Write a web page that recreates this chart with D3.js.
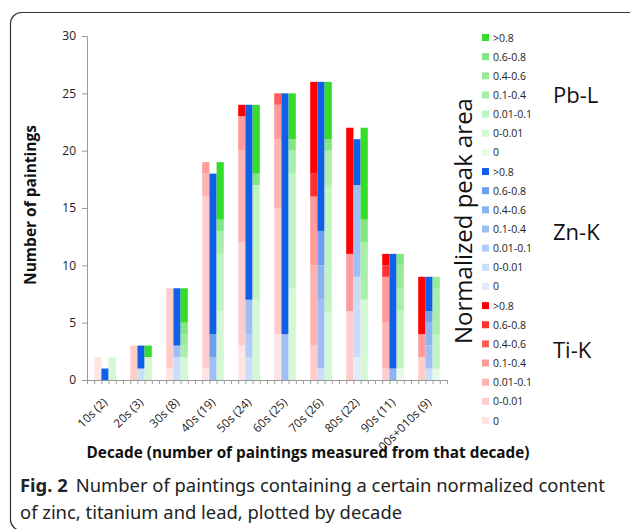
<!DOCTYPE html>
<html><head><meta charset="utf-8">
<script src="https://cdn.jsdelivr.net/npm/d3@7"></script>
<style>
html,body{margin:0;padding:0;background:#fff;}
svg{display:block;}
</style></head>
<body>
<svg id="c" width="630" height="529"></svg>
<script>
// ---- data ----
const decades = ["10s (2)","20s (3)","30s (8)","40s (19)","50s (24)","60s (25)","70s (26)","80s (22)","90s (11)","00s+010s (9)"];
const categories = ["0","0-0.01","0.01-0.1","0.1-0.4","0.4-0.6","0.6-0.8",">0.8"];
const elements = ["Ti","Zn","Pb"];
const elementLabels = ["Ti-K","Zn-K","Pb-L"];
// counts per decade, per category (bottom -> top)
const ti = [
  [2,0,0,0,0,0,0],
  [0,3,0,0,0,0,0],
  [1,7,0,0,0,0,0],
  [1,15,2,1,0,0,0],
  [3,9,8,3,0,0,1],
  [4,11,6,3,1,0,0],
  [0,3,7,6,0,2,8],
  [0,6,0,5,0,0,11],
  [0,1,4,4,0,1,1],
  [0,2,0,2,0,0,5]
];
const zn = [
  [0,0,0,0,0,0,1],
  [0,1,0,0,0,0,2],
  [0,2,0,1,0,0,5],
  [0,0,0,2,0,2,14],
  [0,2,2,3,0,0,17],
  [0,0,0,4,0,0,21],
  [0,1,0,6,3,3,13],
  [2,7,0,8,0,0,4],
  [0,0,0,0,1,0,10],
  [0,1,0,2,2,1,3]
];
const pb = [
  [0,2,0,0,0,0,0],
  [0,2,0,0,0,0,1],
  [0,2,0,1,1,1,3],
  [0,6,5,2,0,1,5],
  [0,7,10,0,0,1,6],
  [0,8,10,2,0,1,4],
  [0,6,11,3,0,1,5],
  [0,7,0,5,0,2,8],
  [1,0,5,2,2,1,0],
  [1,0,3,4,1,0,0]
];
const yTicks = [0,5,10,15,20,25,30];
const colors = {
  Ti: ["#ffe4e4","#ffcccc","#ffb4b4","#ff9b9b","#ff5c5c","#ff3030","#ff0000"],
  Zn: ["#e0ebfc","#c9dcfa","#afcbf7","#9dbff5","#8ab3f3","#6c9ff0","#0f5fe8"],
  Pb: ["#e6fae6","#d4f7d4","#c0f4c0","#a9efa9","#97eb97","#80e680","#33dd2a"]
};
const valuesByElement = {Ti: ti, Zn: zn, Pb: pb};

// ---- drawing ----
const svg = d3.select("#c");
const FONT = "'Open Sans', sans-serif";

// frame
svg.append("rect").attr("x",10.5).attr("y",12.5).attr("width",640).attr("height",518)
  .attr("rx",11).attr("fill","none").attr("stroke","#333").attr("stroke-width",1.2);

const plotL = 87, plotR = 447, plotT = 36, plotB = 380;
const y = d3.scaleLinear().domain([0,30]).range([plotB, plotT]);
const x = d3.scaleBand().domain(decades).range([plotL, plotR]).padding(0);
const xi = d3.scaleBand().domain(elements).range([x.bandwidth()*0.2, x.bandwidth()*0.8]).padding(0);

// bars
elements.forEach(el => {
  const rows = valuesByElement[el].map((v,i) => {
    const o = {decade: decades[i]};
    categories.forEach((c,j) => o[c] = v[j]);
    return o;
  });
  const series = d3.stack().keys(categories)(rows);
  const g = svg.append("g");
  series.forEach((s, j) => {
    g.selectAll(null).data(s.filter(d => d[1] > d[0])).join("rect")
      .attr("x", d => x(d.data.decade) + xi(el))
      .attr("width", xi.bandwidth())
      .attr("y", d => y(d[1]))
      .attr("height", d => y(d[0]) - y(d[1]))
      .attr("fill", colors[el][j]);
  });
});

// y axis
const ya = svg.append("g").attr("transform",`translate(${plotL},0)`)
  .call(d3.axisLeft(y).tickValues(yTicks).tickSize(5).tickPadding(6));
ya.select(".domain").attr("stroke","#9a9a9a");
ya.selectAll(".tick line").attr("stroke","#9a9a9a");
ya.selectAll(".tick text").attr("font-family",FONT).attr("font-size",12).attr("fill","#222");

// x axis (minor tick marks)
const xt = d3.scaleLinear().domain([0,50]).range([plotL, plotR]);
const xa = svg.append("g").attr("transform",`translate(0,${plotB})`)
  .call(d3.axisBottom(xt).ticks(50).tickSize(4).tickFormat(""));
xa.select(".domain").attr("stroke","#9a9a9a");
xa.selectAll(".tick line").attr("stroke","#9a9a9a");

// x labels
svg.append("g").selectAll("text").data(decades).join("text")
  .attr("transform", d => `translate(${x(d)+x.bandwidth()/2+3},${plotB+23}) rotate(-45)`)
  .attr("text-anchor","end")
  .attr("font-family",FONT).attr("font-size",11.8).attr("fill","#222")
  .text(d => d);

// axis titles
svg.append("text").attr("x",308).attr("y",458).attr("text-anchor","middle")
  .attr("font-family",FONT).attr("font-weight","bold").attr("font-size",15.3).attr("fill","#111")
  .text("Decade (number of paintings measured from that decade)");
svg.append("text").attr("transform","translate(36,205) rotate(-90)").attr("text-anchor","middle")
  .attr("font-family",FONT).attr("font-weight","bold").attr("font-size",15.5).attr("fill","#111")
  .text("Number of paintings");

// legend
const legendItems = [];
["Pb","Zn","Ti"].forEach(el => {
  for (let j = categories.length-1; j >= 0; j--) legendItems.push({el, j, label: categories[j]});
});
const lg = svg.append("g");
legendItems.forEach((d,i) => {
  const yy = 38 + i*19.15;
  lg.append("rect").attr("x",482).attr("y",yy-4).attr("width",7).attr("height",7).attr("fill",colors[d.el][d.j]);
  lg.append("text").attr("x",493).attr("y",yy+3.5).attr("font-family",FONT).attr("font-size",10.5).attr("fill","#222").text(d.label);
});

// element labels
const elY = {Pb: 103, Zn: 240, Ti: 358};
["Pb","Zn","Ti"].forEach(el => {
  svg.append("text").attr("x",553).attr("y",elY[el]).attr("font-family",FONT).attr("font-size",22).attr("fill","#111")
    .text(elementLabels[elements.indexOf(el)]);
});
svg.append("text").attr("transform","translate(472,221) rotate(-90)").attr("text-anchor","middle")
  .attr("font-family",FONT).attr("font-size",24).attr("fill","#111").text("Normalized peak area");

// caption
const cap = svg.append("text").attr("x",20).attr("y",492).attr("font-family","'Noto Sans', sans-serif").attr("font-size",18.4).attr("fill","#222");
cap.append("tspan").attr("font-weight","bold").text("Fig. 2");
cap.append("tspan").attr("dx",8).text("Number of paintings containing a certain normalized content");
svg.append("text").attr("x",20).attr("y",519).attr("font-family","'Noto Sans', sans-serif").attr("font-size",18.4).attr("fill","#222")
  .text("of zinc, titanium and lead, plotted by decade");
</script>
</body></html>
